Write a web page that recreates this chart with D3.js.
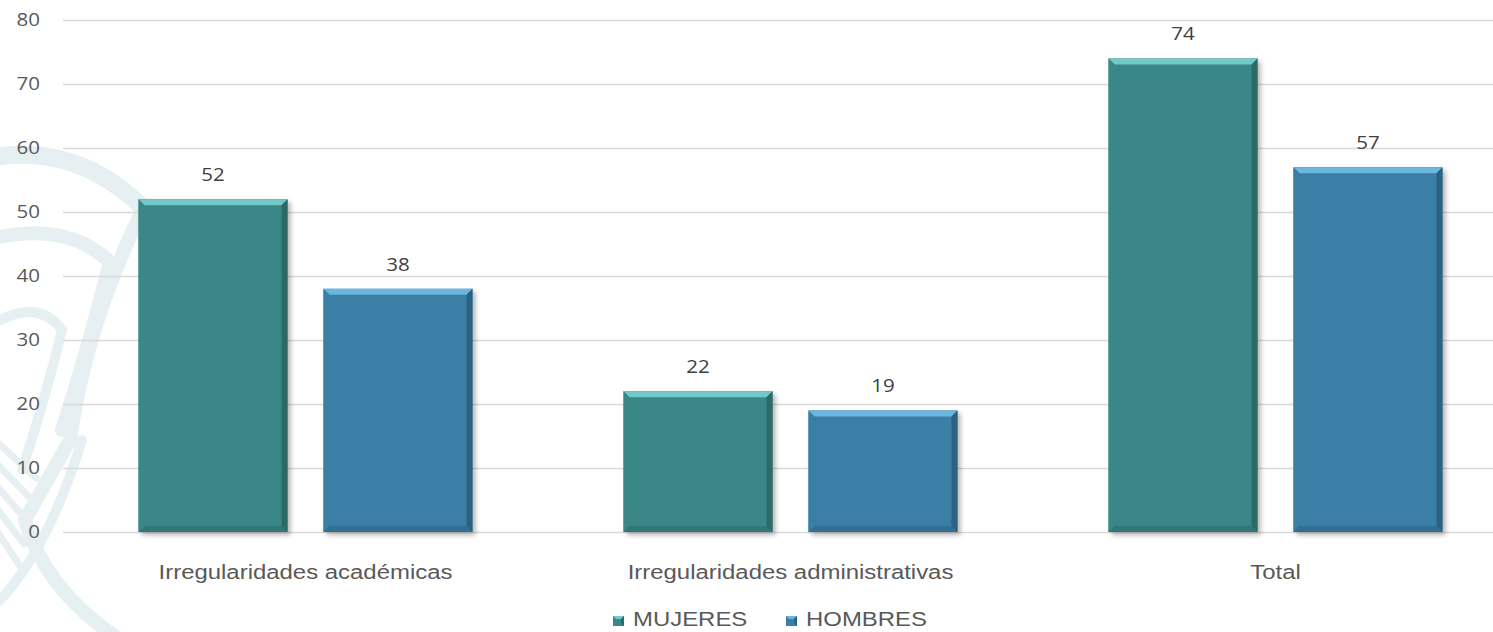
<!DOCTYPE html>
<html><head><meta charset="utf-8">
<script src="https://cdn.jsdelivr.net/npm/d3@7"></script>
<style>body{margin:0;background:#fff;}svg{display:block;}</style>
</head><body><svg id="c" width="1493" height="632"></svg>
<script>
const categories = ["Irregularidades académicas", "Irregularidades administrativas", "Total"];
const seriesNames = ["MUJERES", "HOMBRES"];
const mujeres = [52, 22, 74];
const hombres = [38, 19, 57];
const yTicks = [0, 10, 20, 30, 40, 50, 60, 70, 80];
const colors = ["#3a8787", "#3a7fa6"];
const topColors = ["#72c9c9", "#69b6de"];
const darkColors = ["#2c6a6a", "#2b6280"];

const svg = d3.select("#c");
const W = 1493, H = 632;
const SX = 1.14;
const defs = svg.append("defs");
const f = defs.append("filter").attr("id","sh").attr("x","-10%").attr("y","-10%").attr("width","130%").attr("height","130%");
f.append("feGaussianBlur").attr("in","SourceAlpha").attr("stdDeviation",2.5);
f.append("feOffset").attr("dx",3).attr("dy",3).attr("result","o");
f.append("feComponentTransfer").append("feFuncA").attr("type","linear").attr("slope",0.3);
const fm = f.append("feMerge"); fm.append("feMergeNode"); fm.append("feMergeNode").attr("in","SourceGraphic");
const tg = defs.append("linearGradient").attr("id","wmg").attr("x1",0).attr("y1",0).attr("x2",0).attr("y2",1);

// faint watermark
const wm = svg.append("g").attr("fill","none").attr("stroke","#e6f0f2").attr("stroke-linecap","round");
wm.append("path").attr("d","M -40 165 Q 70 130 150 215").attr("stroke-width",18);
wm.append("path").attr("d","M -30 245 Q 60 215 110 262 Q 85 360 62 430").attr("stroke-width",14);
wm.append("path").attr("d","M 0 320 Q 40 300 62 330 Q 45 400 22 470").attr("stroke-width",10);
wm.append("path").attr("d","M 140 215 Q 85 330 70 440 L 25 520 Q 45 590 120 640").attr("stroke-width",14);
wm.append("path").attr("d","M -10 610 Q 45 560 82 440").attr("stroke-width",10);
[440,462,484,506,528].forEach((y,i)=>wm.append("line").attr("x1",-5).attr("y1",y).attr("x2",36-i*4).attr("y2",y+38).attr("stroke-width",7));

const x0 = d3.scaleBand().domain(categories).range([63, 1518]).paddingInner(0).paddingOuter(0);
const x1 = d3.scaleBand().domain(seriesNames).range([75.5, 485-75.5]).paddingInner(36/185.5).paddingOuter(0);
const y = d3.scaleLinear().domain([0, 80]).range([532, 20]);

// gridlines
const yAxis = d3.axisLeft(y).tickValues(yTicks).tickSize(-(W-63)).tickFormat("");
const ga = svg.append("g").attr("transform","translate(63,0)").call(yAxis);
ga.select(".domain").remove();
ga.selectAll(".tick line").attr("stroke","#d9d9d9").attr("stroke-width",1.3);

// tick labels
svg.append("g").selectAll("text").data(yTicks).join("text")
  .attr("transform", d=>`translate(40,${y(d)+6}) scale(${SX},1)`)
  .attr("text-anchor","end").attr("font-family","'Open Sans', sans-serif").attr("font-size",18).attr("fill","#595959")
  .text(d=>d);

const data = categories.map((c,i)=>({cat:c, vals:[mujeres[i], hombres[i]]}));
const groups = svg.append("g").selectAll("g").data(data).join("g")
  .attr("transform", d=>`translate(${x0(d.cat)-63},0)`);

const b = 6;
groups.each(function(d){
  const g = d3.select(this);
  d.vals.forEach((v,si)=>{
    const xs = 63 + x1(seriesNames[si]);
    const w = x1.bandwidth();
    const yt = y(v), yb = y(0), h = yb-yt;
    const bg = g.append("g");
    bg.append("rect").attr("x",xs).attr("y",yt).attr("width",w).attr("height",h).attr("fill",colors[si]).attr("filter","url(#sh)");
    bg.append("polygon").attr("points",`${xs},${yt} ${xs+w},${yt} ${xs+w-b},${yt+b} ${xs+b},${yt+b}`).attr("fill",topColors[si]);
    bg.append("polygon").attr("points",`${xs},${yt} ${xs+b},${yt+b} ${xs+b},${yb-b} ${xs},${yb}`).attr("fill",colors[si]).attr("opacity",0.9);
    bg.append("polygon").attr("points",`${xs+w},${yt} ${xs+w},${yb} ${xs+w-b},${yb-b} ${xs+w-b},${yt+b}`).attr("fill",darkColors[si]);
    bg.append("polygon").attr("points",`${xs},${yb} ${xs+w},${yb} ${xs+w-b},${yb-b} ${xs+b},${yb-b}`).attr("fill",darkColors[si]).attr("opacity",0.55);
    g.append("text").attr("transform",`translate(${xs+w/2},${yt-18}) scale(${SX},1)`).attr("text-anchor","middle")
      .attr("font-family","'Open Sans', sans-serif").attr("font-size",18).attr("fill","#404040").text(v);
  });
});

// category labels
svg.append("g").selectAll("text").data(categories).join("text")
  .attr("transform", d=>`translate(${x0(d)+x0.bandwidth()/2},579) scale(${SX},1)`).attr("text-anchor","middle")
  .attr("font-family","'Liberation Sans', Arial, sans-serif").attr("font-size",21).attr("fill","#595959").text(d=>d);

// legend
const lg = svg.append("g");
const lx = [613, 786];
seriesNames.forEach((s,i)=>{
  const xs = lx[i], ys = 616, sz = 11;
  lg.append("rect").attr("x",xs).attr("y",ys).attr("width",sz).attr("height",sz-1).attr("fill",colors[i]);
  lg.append("polygon").attr("points",`${xs},${ys} ${xs+sz},${ys} ${xs+sz-3},${ys+3} ${xs+3},${ys+3}`).attr("fill",topColors[i]);
  lg.append("polygon").attr("points",`${xs+sz},${ys} ${xs+sz},${ys+sz-1} ${xs+sz-3},${ys+sz-4} ${xs+sz-3},${ys+3}`).attr("fill",darkColors[i]);
  lg.append("text").attr("transform",`translate(${xs+20},626) scale(${SX},1)`).attr("font-family","'Liberation Sans', Arial, sans-serif")
    .attr("font-size",21).attr("fill","#595959").text(s);
});
</script></body></html>
